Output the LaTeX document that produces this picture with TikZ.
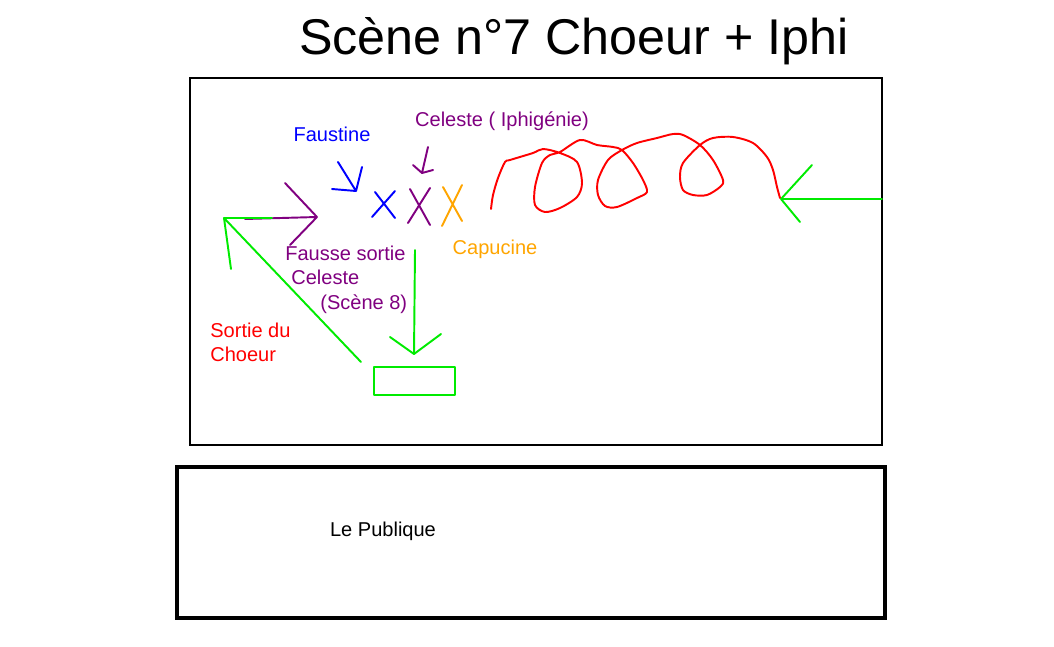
\documentclass[tikz,border=0pt]{standalone}
\usepackage{fontspec}
\setmainfont{Liberation Sans}
\usetikzlibrary{positioning}
\definecolor{chblue}{RGB}{0,0,255}
\definecolor{chpurple}{RGB}{128,0,128}
\definecolor{chorange}{RGB}{255,165,0}
\definecolor{chred}{RGB}{255,0,0}
\definecolor{chgreen}{RGB}{0,235,0}

\begin{document}
\begin{tikzpicture}[
  x=0.02cm, y=-0.02cm,
  lbl/.style={inner sep=0pt, font=\fontsize{11.4pt}{13.6pt}\selectfont},
  stroke/.style={line width=1.1pt, line cap=round, line join=round}
]
  \useasboundingbox (0,0) rectangle (1054,646);

  % Title
  \node[inner sep=0pt, font=\fontsize{28.6pt}{34pt}\selectfont] (title) at (574,41) {Scène n°7 Choeur + Iphi};

  % Stage and audience
  \draw[line width=1.1pt] (190,78) rectangle (882,445);
  \draw[line width=2.8pt] (177,467) rectangle (885,618);
  \node[lbl] (public) at (383,531) {Le Publique};

  % Labels
  \node[lbl, text=chblue] (faustine) at (332,134) {Faustine};
  \node[lbl, text=chpurple] (celeste) at (502,121) {Celeste ( Iphigénie)};
  \node[lbl, text=chorange] (capucine) at (495,249) {Capucine};
  \node[lbl, text=chpurple, anchor=west] (fausse) at (285,253) {Fausse sortie};
  \node[lbl, text=chpurple, anchor=west] (fausse2) at (291,277) {Celeste};
  \node[lbl, text=chpurple, anchor=west] (fausse3) at (320,304) {(Scène 8)};
  \node[lbl, text=chred, align=left, anchor=north west] (sortie) at (210,323) {Sortie du\\Choeur};

  % Crosses
  \draw[stroke, chblue] (372,217) -- (395,191) (375,192) -- (395,218);
  \draw[stroke, chpurple] (408,223) -- (430,188) (410,189) -- (430,225);
  \draw[stroke, chorange] (442,226) -- (462,185) (443,187) -- (462,221);

  % Small arrows
  \draw[stroke, chblue] (338,162) -- (356,191) -- (362,167) (332,189) -- (356,191);
  \draw[stroke, chpurple] (428,147) -- (422,173) -- (413,165) (422,173) -- (433,170);
  \draw[stroke, chpurple] (245,219) -- (317,217) (285,183) -- (317,217) -- (290,245);

  % Path of the chorus
  \draw[stroke, chred] plot[smooth, tension=0.5] coordinates {
    (491,209) (493,195) (498,178) (505,162) (510,160) (533,153) (543,149)
    (560,153) (577,162) (582,183) (577,197) (560,208) (545,212) (535,205)
    (535,187) (542,163) (550,155) (560,152) (580,140) (597,145) (613,147)
    (622,150) (633,163) (643,180) (647,192) (637,198) (617,207) (605,206)
    (598,195) (598,180) (608,160) (622,150) (637,143) (657,138) (673,134)
    (683,135) (700,145) (713,160) (723,180) (720,187) (707,195) (693,195)
    (683,190) (680,177) (683,163) (700,145) (713,138) (733,137) (753,143)
    (767,157) (773,170) (777,187) (780,198)};

  % Entrance and exits
  \draw[stroke, chgreen] (882,199) -- (781,199) (812,165) -- (781,199) -- (800,222);
  \draw[stroke, chgreen] (361,362) -- (224,218) (231,269) -- (224,218) -- (272,218);
  \draw[stroke, chgreen] (415,250) -- (414,354) (390,337) -- (414,354) -- (441,334);
  \draw[stroke, chgreen] (374,367) rectangle (455,395);
\end{tikzpicture}
\end{document}
